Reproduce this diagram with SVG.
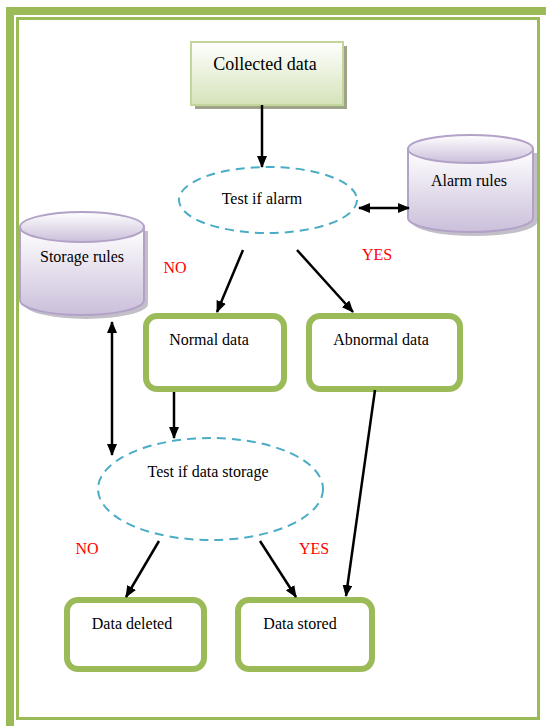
<svg xmlns="http://www.w3.org/2000/svg" width="546" height="726" viewBox="0 0 546 726">
<defs>
  <linearGradient id="gGreen" x1="0" y1="0" x2="0" y2="1">
    <stop offset="0" stop-color="#ffffff"/>
    <stop offset="1" stop-color="#d5e3b9"/>
  </linearGradient>
  <linearGradient id="gPurple" x1="0" y1="0" x2="0" y2="1">
    <stop offset="0" stop-color="#ffffff"/>
    <stop offset="1" stop-color="#cbbfda"/>
  </linearGradient>
  <marker id="ah" viewBox="0 0 12 10" refX="11" refY="5" markerWidth="12" markerHeight="10" markerUnits="userSpaceOnUse" orient="auto-start-reverse">
    <path d="M0,0 L12,5 L0,10 z" fill="#000"/>
  </marker>
  <style>
    .t { font-family: "Liberation Serif", "Times New Roman", serif; font-size: 16px; fill: #000; text-anchor: middle; }
    .red { font-family: "Liberation Serif", "Times New Roman", serif; font-size: 16px; fill: #ff0000; text-anchor: middle; }
    .box { fill: #ffffff; stroke: #9bbb59; stroke-width: 6; }
    .dec { fill: #ffffff; stroke: #4bacc6; stroke-width: 2; stroke-dasharray: 9 6; }
    .cyl { fill: url(#gPurple); stroke: #b3a2c7; stroke-width: 2; }
    .cylShadow { fill: #a9a4b0; opacity: 0.7; }
    .conn { stroke: #000; stroke-width: 2.5; fill: none; }
  </style>
</defs>
<rect x="0" y="0" width="546" height="726" fill="#ffffff"/>
<!-- page border -->
<g id="border" fill="none" stroke="#9bbb59">
  <rect x="10" y="11" width="540" height="719" stroke-width="8"/>
  <rect x="17.5" y="18.5" width="521" height="700" stroke-width="3"/>
</g>

<g id="collected">
  <rect x="195" y="46" width="152" height="63" fill="#9ea38a"/>
  <rect x="191" y="42" width="152" height="63" fill="url(#gGreen)" stroke="#c3d69b" stroke-width="2"/>
  <text class="t" x="265" y="70" style="font-size:18px">Collected data</text>
</g>

<g id="testAlarm">
  <ellipse class="dec" cx="268" cy="200" rx="89" ry="33"/>
  <text class="t" x="262" y="204">Test if alarm</text>
</g>

<g id="alarmRules">
  <path class="cylShadow" d="M412,153 V222 A62.5,14 0 0 0 537,222 V153 Z"/>
  <path class="cyl" d="M408,149 V218 A62.5,14 0 0 0 533,218 V149 Z"/>
  <ellipse class="cyl" cx="470.5" cy="149" rx="62.5" ry="14"/>
  <text class="t" x="469" y="186">Alarm rules</text>
</g>

<g id="storageRules">
  <path class="cylShadow" d="M24,231 V304 A62,15 0 0 0 148,304 V231 Z"/>
  <path class="cyl" d="M20,227 V300 A62,15 0 0 0 144,300 V227 Z"/>
  <ellipse class="cyl" cx="82" cy="227" rx="62" ry="15"/>
  <text class="t" x="82" y="262">Storage rules</text>
</g>

<g id="normal">
  <rect class="box" x="146" y="316" width="138" height="73" rx="11"/>
  <text class="t" x="209" y="345">Normal data</text>
</g>

<g id="abnormal">
  <rect class="box" x="309" y="316" width="151" height="73" rx="11"/>
  <text class="t" x="381" y="345">Abnormal data</text>
</g>

<g id="testStorage">
  <ellipse class="dec" cx="210.5" cy="489" rx="112.5" ry="51"/>
  <text class="t" x="208" y="477">Test if data storage</text>
</g>

<g id="deleted">
  <rect class="box" x="67" y="600" width="137" height="69" rx="11"/>
  <text class="t" x="132" y="629">Data deleted</text>
</g>

<g id="stored">
  <rect class="box" x="238" y="600" width="134" height="69" rx="11"/>
  <text class="t" x="300" y="629">Data stored</text>
</g>

<g id="labels">
  <text class="red" x="175" y="273">NO</text>
  <text class="red" x="377" y="260">YES</text>
  <text class="red" x="87" y="554">NO</text>
  <text class="red" x="314" y="554">YES</text>
</g>

<g id="connectors">
  <line class="conn" x1="262" y1="105" x2="262" y2="167" marker-end="url(#ah)"/>
  <line class="conn" x1="359" y1="208" x2="409" y2="208" marker-start="url(#ah)" marker-end="url(#ah)"/>
  <line class="conn" x1="112" y1="322" x2="112" y2="455" marker-start="url(#ah)" marker-end="url(#ah)"/>
  <line class="conn" x1="243" y1="250" x2="217" y2="312" marker-end="url(#ah)"/>
  <line class="conn" x1="297" y1="250" x2="353" y2="312" marker-end="url(#ah)"/>
  <line class="conn" x1="174" y1="392" x2="174" y2="438" marker-end="url(#ah)"/>
  <line class="conn" x1="159" y1="541" x2="126" y2="597" marker-end="url(#ah)"/>
  <line class="conn" x1="260" y1="541" x2="296" y2="597" marker-end="url(#ah)"/>
  <line class="conn" x1="375" y1="390" x2="346" y2="596" marker-end="url(#ah)"/>
</g>
</svg>
